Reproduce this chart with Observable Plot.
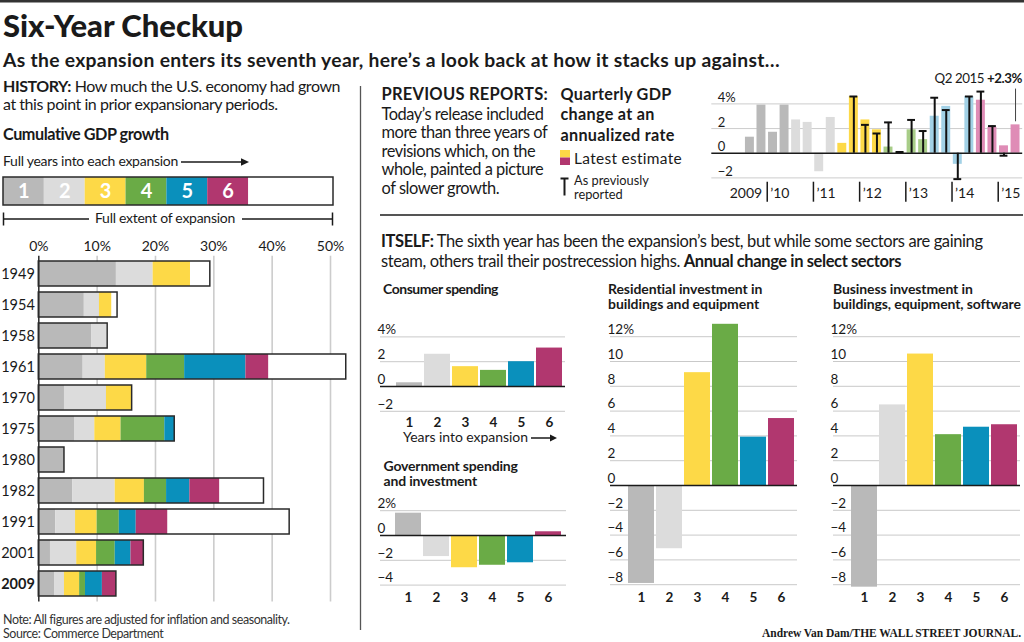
<!DOCTYPE html>
<html><head><meta charset="utf-8">
<script src="https://cdn.jsdelivr.net/npm/d3@7"></script>
<script src="https://cdn.jsdelivr.net/npm/@observablehq/plot@0.6"></script>
<style>
html,body{margin:0;padding:0;background:#fff;}
#page{position:relative;width:1024px;height:642px;overflow:hidden;background:#fff;}
#page svg{overflow:visible;}
</style></head><body><div id="page"></div>
<script>
// ---------------- DATA ----------------
const yearsInto = [1, 2, 3, 4, 5, 6];
const palette  = ["#b9b9b9", "#dcdcdc", "#fdd947", "#6aab46", "#0a90bc", "#b1376f"];
const qPalette = ["#b9b9b9", "#dcdcdc", "#fdd947", "#a8cd88", "#a2d1e6", "#df8cb6"];

// History: cumulative GDP growth (%) at the end of each full year of expansion
const expansionStarts = ["1949","1954","1958","1961","1970","1975","1980","1982","1991","2001","2009"];
const cumulativeByYear = [
  [13.3, 19.6, 26.0],
  [7.8, 10.4, 12.5],
  [9.1, 11.6],
  [7.6, 11.4, 18.5, 25.0, 35.5, 39.4],
  [4.4, 11.6, 16.0],
  [6.2, 9.6, 14.1, 21.6, 23.3],
  [4.4],
  [5.8, 13.1, 18.1, 21.9, 25.9, 31.0],
  [2.9, 6.3, 10.0, 13.8, 16.7, 22.1],
  [2.0, 6.5, 9.9, 13.1, 15.8, 18.0],
  [2.7, 4.4, 7.0, 8.0, 10.9, 13.3]
];
const fullExtent = [29.4, 13.5, 11.8, 52.7, 16.0, 23.3, 4.4, 38.6, 43.0, 18.0, 13.3];
const historyTicks = [0, 10, 20, 30, 40, 50];
const legendExtent = 8.08; // full-extent box in the key, in key units

// Quarterly GDP, annualized %
const quarterLabels = ["2009Q3","2009Q4","2010Q1","2010Q2","2010Q3","2010Q4","2011Q1","2011Q2",
  "2011Q3","2011Q4","2012Q1","2012Q2","2012Q3","2012Q4","2013Q1","2013Q2",
  "2013Q3","2013Q4","2014Q1","2014Q2","2014Q3","2014Q4","2015Q1","2015Q2"];
const quarterExpansionYear = [1,1,1,1, 2,2,2,2, 3,3,3,3, 4,4,4,4, 5,5,5,5, 6,6,6,6];
const latestEstimate = [1.3, 3.9, 1.7, 3.9, 2.7, 2.5, -1.5, 2.9, 0.8, 4.6, 2.7, 1.9,
  0.5, 0.1, 1.9, 1.1, 3.0, 3.8, -0.9, 4.6, 4.3, 2.1, 0.6, 2.3];
const previousReport = [null, null, null, null, null, null, null, null, null, 4.6, 2.3, 1.6,
  2.5, 0.1, 2.7, 1.8, 4.5, 3.5, -2.1, 4.6, 5.0, 2.2, -0.2, null];
const qTicks = [-2, 0, 2, 4];
const tickYears = [2010, 2011, 2012, 2013, 2014, 2015];
const tickYearLabels = ["’10", "’11", "’12", "’13", "’14", "’15"];

// Annual change in select sectors (%), by year into expansion
const consumerSpending = [0.3, 2.6, 1.6, 1.3, 2.0, 3.1];
const governmentSpending = [1.8, -1.7, -2.6, -2.4, -2.2, 0.3];
const residentialInvestment = [-7.9, -5.1, 9.1, 13.0, 3.9, 5.4];
const businessInvestment = [-8.2, 6.5, 10.6, 4.1, 4.7, 4.9];
const consumerTicks = [-2, 0, 2, 4];
const governmentTicks = [-4, -2, 0, 2];
const investmentTicks = [-8, -6, -4, -2, 0, 2, 4, 6, 8, 10, 12];

// ---------------- PAGE ----------------
const SANS = "Lato, 'Open Sans', 'Noto Sans', sans-serif";
const INK = "#1a1a1a";
const page = document.getElementById("page");
const NS = "http://www.w3.org/2000/svg";
const over = document.createElementNS(NS, "svg");
over.setAttribute("width", 1024); over.setAttribute("height", 642);
over.style.position = "absolute"; over.style.left = "0"; over.style.top = "0";
page.appendChild(over);

function mk(tag, attrs, parent = over) {
  const e = document.createElementNS(NS, tag);
  for (const k in attrs) e.setAttribute(k, attrs[k]);
  parent.appendChild(e);
  return e;
}
function line(x1, y1, x2, y2, stroke = INK, w = 1.5) { return mk("line", {x1, y1, x2, y2, stroke, "stroke-width": w}); }
function textLine(x, y, parts, o) {
  const t = mk("text", {x, y, "font-size": o.size, "font-family": o.family || SANS,
    "font-weight": o.weight || 400, fill: o.fill || INK, "text-anchor": o.anchor || "start"});
  for (const p of parts) {
    const s = mk("tspan", {}, t);
    if (typeof p === "string") s.textContent = p;
    else { s.textContent = p.b; s.setAttribute("font-weight", 700); }
  }
  return t;
}
function fitGroup(els, ref, w) {
  const r = els[ref];
  const n = r.textContent.length;
  let cur = r.getBBox().width;
  if (!cur) return;
  const ls = Math.max(-0.45, Math.min(0.3, (w - cur) / n));
  els.forEach(e => e.setAttribute("letter-spacing", ls));
  for (let it = 0; it < 3; it++) {
    cur = r.getBBox().width;
    const fs = parseFloat(r.getAttribute("font-size")) * w / cur;
    els.forEach(e => e.setAttribute("font-size", fs));
  }
}
function block(x, y0, lh, lines, o) {
  const els = lines.map((parts, i) => textLine(x, y0 + i * lh, parts, o));
  if (o.w) fitGroup(els, o.ref || 0, o.w);
  return els;
}

// rules and decorations
mk("rect", {x: 0, y: 0, width: 1024, height: 2.5, fill: "#333"});
line(360.5, 86, 360.5, 630, "#555", 1.3);
line(380, 215, 1023, 215, "#555", 2);
// "Full years" arrow
line(181, 162, 243, 162, INK, 1.5);
mk("polygon", {points: "249,162 241,158.3 241,165.7", fill: INK});
// bracket
line(3, 219, 89, 219, INK, 1.3); line(242, 219, 333, 219, INK, 1.3);
line(3.5, 212.5, 3.5, 225.5, INK, 1.5); line(332.5, 212.5, 332.5, 225.5, INK, 1.5);
// years-into-expansion arrow
line(531, 438, 551, 438, INK, 1.5);
mk("polygon", {points: "557,438 550,434.5 550,441.5", fill: INK});
// quarterly legend
mk("rect", {x: 560, y: 150, width: 10, height: 7.5, fill: palette[2]});
mk("rect", {x: 560, y: 157.5, width: 10, height: 7.5, fill: palette[5]});
line(564.5, 178.5, 564.5, 195.5, INK, 2); line(560.5, 178.5, 568.5, 178.5, INK, 2);

// texts
block(3, 37, 0, [["Six-Year Checkup"]], {size: 31, weight: 900, w: 240});
block(3, 66.5, 0, [["As the expansion enters its seventh year, here’s a look back at how it stacks up against…"]], {size: 18, weight: 700, w: 778});
block(3, 92, 18, [[{b: "HISTORY:"}, " How much the U.S. economy had grown"], ["at this point in prior expansionary periods."]], {size: 16.5, w: 337});
block(3, 140, 0, [[{b: "Cumulative GDP growth"}]], {size: 16.5, w: 166});
block(3, 166, 0, [["Full years into each expansion"]], {size: 14, w: 175});
block(165, 223, 0, [["Full extent of expansion"]], {size: 14, w: 140, anchor: "middle"});
block(3, 624, 13.5, [["Note: All figures are adjusted for inflation and seasonality."], ["Source: Commerce Department"]], {size: 13, w: 287, fill: "#333"});

block(381.5, 100, 0, [[{b: "PREVIOUS REPORTS:"}]], {size: 16.5, w: 166.5});
block(381.5, 120, 18.4, [["Today’s release included"], ["more than three years of"], ["revisions which, on the"], ["whole, painted a picture"], ["of slower growth."]], {size: 16.5, w: 166.5, ref: 1});
block(560.5, 99.5, 20.8, [["Quarterly GDP"], ["change at an"], ["annualized rate"]], {size: 16, weight: 700, w: 111});
block(574, 163.5, 0, [["Latest estimate"]], {size: 14.5, w: 108});
block(574, 185, 14, [["As previously"], ["reported"]], {size: 12.8});
block(1022, 83, 0, [["Q2 2015 ", {b: "+2.3%"}]], {size: 14.5, w: 88, anchor: "end"});

block(381, 247, 19.5, [[{b: "ITSELF:"}, " The sixth year has been the expansion’s best, but while some sectors are gaining"],
  ["steam, others trail their postrecession highs. ", {b: "Annual change in select sectors"}]], {size: 16.5, w: 602});
block(383, 294, 0, [[{b: "Consumer spending"}]], {size: 14, w: 116});
block(608, 293.5, 15.5, [[{b: "Residential investment in"}], [{b: "buildings and equipment"}]], {size: 14, w: 152, ref: 1});
block(833, 293.5, 15.5, [[{b: "Business investment in"}], [{b: "buildings, equipment, software"}]], {size: 14, w: 188.5, ref: 1});
block(383.5, 471, 15, [[{b: "Government spending"}], [{b: "and investment"}]], {size: 14, w: 135});
block(403, 442, 0, [["Years into expansion"]], {size: 14, w: 125});
block(1021, 636.5, 0, [["Andrew Van Dam/THE WALL STREET JOURNAL."]], {size: 11.5, weight: 700, family: "'Liberation Serif', 'DejaVu Serif', serif", w: 259, anchor: "end"});

// ---------------- CHARTS ----------------
const baseStyle = {fontFamily: SANS, fontSize: "13px", color: INK, background: "none", overflow: "visible"};
function place(svg, left, top) {
  svg.style.position = "absolute"; svg.style.left = left + "px"; svg.style.top = top + "px";
  svg.style.maxWidth = "none";
  page.appendChild(svg);
}

// History chart
const histSegments = [];
cumulativeByYear.forEach((arr, r) => arr.forEach((v, i) => histSegments.push({start: expansionStarts[r], k: i + 1, x1: i ? arr[i - 1] : 0, x2: v})));
const histRows = expansionStarts.map((s, r) => ({start: s, full: fullExtent[r]}));
place(Plot.plot({
  width: 360, height: 380, marginLeft: 38.3, marginRight: 30, marginTop: 25.8, marginBottom: 8.5,
  x: {domain: [0, 50], axis: null},
  y: {type: "band", domain: expansionStarts, paddingInner: 0.2, paddingOuter: 0.1, axis: null},
  color: {type: "ordinal", domain: yearsInto, range: palette},
  style: baseStyle,
  marks: [
    Plot.ruleX(historyTicks.slice(1), {stroke: "#cccccc", strokeWidth: 1.6}),
    Plot.barX(histRows, {x1: 0, x2: "full", y: "start", fill: "white"}),
    Plot.barX(histSegments, {x1: "x1", x2: "x2", y: "start", fill: "k"}),
    Plot.barX(histRows, {x1: 0, x2: "full", y: "start", fill: "none", stroke: "#2a2a2a", strokeWidth: 1.5}),
    Plot.ruleX([0], {stroke: "#2a2a2a", strokeWidth: 1.5}),
    Plot.axisX({anchor: "top", ticks: historyTicks, tickSize: 0, tickPadding: 5, tickFormat: d => d + "%", fontSize: 14}),
    Plot.text(expansionStarts.filter(s => s !== "2009"), {y: d => d, text: d => d, frameAnchor: "left", textAnchor: "end", dx: -4, fontSize: 14.5}),
    Plot.text(["2009"], {y: d => d, text: d => d, frameAnchor: "left", textAnchor: "end", dx: -4, fontSize: 14.5, fontWeight: "bold"})
  ]
}), 0, 230);

// Key bar
place(Plot.plot({
  width: 345, height: 40, marginLeft: 3, marginRight: 12, marginTop: 7, marginBottom: 5,
  x: {domain: [0, legendExtent], axis: null},
  color: {type: "ordinal", domain: yearsInto, range: palette},
  style: baseStyle,
  marks: [
    Plot.barX([legendExtent], {x1: 0, x2: d => d, fill: "white"}),
    Plot.barX(yearsInto, {x1: d => d - 1, x2: d => d, fill: d => d}),
    Plot.barX([legendExtent], {x1: 0, x2: d => d, fill: "none", stroke: "#2a2a2a", strokeWidth: 1.5}),
    Plot.text(yearsInto, {x: d => d - 0.5, text: d => String(d), frameAnchor: "middle", fill: "white", fontWeight: "bold", fontSize: 20})
  ]
}), 0, 170);

// Quarterly chart
const qData = quarterLabels.map((q, i) => {
  const t0 = +q.slice(0, 4) + (+q.slice(5) - 1) / 4;
  return {t0, t1: t0 + 0.25, tc: t0 + 0.125, v: latestEstimate[i], p: previousReport[i], k: quarterExpansionYear[i]};
});
const qPrev = qData.filter(d => d.p !== null);
const fmtTick = (d, top) => d === top ? d + "%" : (d < 0 ? "−" + (-d) : String(d));
place(Plot.plot({
  width: 324, height: 145, marginLeft: 11.3, marginRight: 1.8, marginTop: 0, marginBottom: 0,
  x: {domain: [2008.8, 2015.53], axis: null},
  y: {domain: [-2, 4], range: [112.4, 38.4], axis: null},
  color: {type: "ordinal", domain: yearsInto, range: qPalette},
  style: baseStyle,
  marks: [
    Plot.ruleY(qTicks.filter(t => t !== 0), {stroke: "#cccccc", strokeWidth: 1}),
    Plot.rect(qData, {x1: "t0", x2: "t1", y1: 0, y2: "v", fill: "k", insetLeft: 1.3, insetRight: 1.3}),
    Plot.ruleY([0], {stroke: INK, strokeWidth: 1.5}),
    Plot.ruleX(qPrev, {x: "tc", y1: 0, y2: "p", stroke: "#111", strokeWidth: 2}),
    Plot.ruleY(qPrev, {y: "p", x1: d => d.tc - 0.085, x2: d => d.tc + 0.085, stroke: "#111", strokeWidth: 2}),
    Plot.ruleX(qData.slice(-1), {x: "tc", y1: d => d.v + 0.25, y2: 5.2, stroke: "#444", strokeWidth: 1}),
    Plot.text(qTicks, {y: d => d, text: d => fmtTick(d, 4), frameAnchor: "left", textAnchor: "start", dx: 6, dy: -6, fontSize: 13}),
    Plot.ruleX(tickYears, {y1: -2.35, y2: -3.97, stroke: INK, strokeWidth: 1.5}),
    Plot.text(tickYears, {x: d => d, y: -3.27, text: (d, i) => tickYearLabels[i], textAnchor: "start", dx: 3, fontSize: 14}),
    Plot.text(tickYears.slice(0, 1), {x: d => d, y: -3.27, text: () => "2009", textAnchor: "end", dx: -5, fontSize: 14})
  ]
}), 700, 65);

// Sector charts
function sector(values, ticks, o) {
  const k = 12.4;
  const L = o.frameL - 10, T = o.top, W = o.frameR - L + 4, H = o.bottom - o.top;
  const tmax = Math.max(...ticks), tmin = Math.min(...ticks);
  const data = values.map((v, i) => ({k: yearsInto[i], v}));
  place(Plot.plot({
    width: W, height: H, marginLeft: 10, marginRight: 4, marginTop: 0, marginBottom: 0,
    x: {type: "band", domain: yearsInto, range: [o.barL - L, o.barR - L], paddingInner: 0.056, paddingOuter: 0.028, axis: null},
    y: {domain: [tmin, tmax], range: [o.zeroY - tmin * k - T, o.zeroY - tmax * k - T], axis: null},
    color: {type: "ordinal", domain: yearsInto, range: palette},
    style: baseStyle,
    marks: [
      Plot.ruleY(ticks.filter(t => t !== 0), {stroke: "#c9c9c9", strokeWidth: 1}),
      Plot.barY(data, {x: "k", y1: 0, y2: "v", fill: "k"}),
      Plot.ruleY([0], {stroke: INK, strokeWidth: 1.5}),
      Plot.text(ticks, {y: d => d, text: d => fmtTick(d, tmax), frameAnchor: "left", textAnchor: "start", dx: -3, dy: -7, fontSize: 13.5}),
      Plot.text(yearsInto, {x: d => d, y: (o.zeroY - o.labelY) / k, text: d => String(d), fontWeight: "bold", fontSize: 13.5})
    ]
  }), L, T);
}
sector(consumerSpending, consumerTicks, {frameL: 380, frameR: 565, barL: 393.5, barR: 565.1, zeroY: 386, labelY: 421.8, top: 320, bottom: 432});
sector(governmentSpending, governmentTicks, {frameL: 380, frameR: 566, barL: 392.5, barR: 564.1, zeroY: 535, labelY: 597, top: 495, bottom: 608});
sector(residentialInvestment, investmentTicks, {frameL: 610, frameR: 797, barL: 625.2, barR: 796.8, zeroY: 485, labelY: 597.5, top: 316, bottom: 608});
sector(businessInvestment, investmentTicks, {frameL: 833, frameR: 1020, barL: 848.5, barR: 1020.1, zeroY: 485, labelY: 597.5, top: 316, bottom: 608});
</script></body></html>
